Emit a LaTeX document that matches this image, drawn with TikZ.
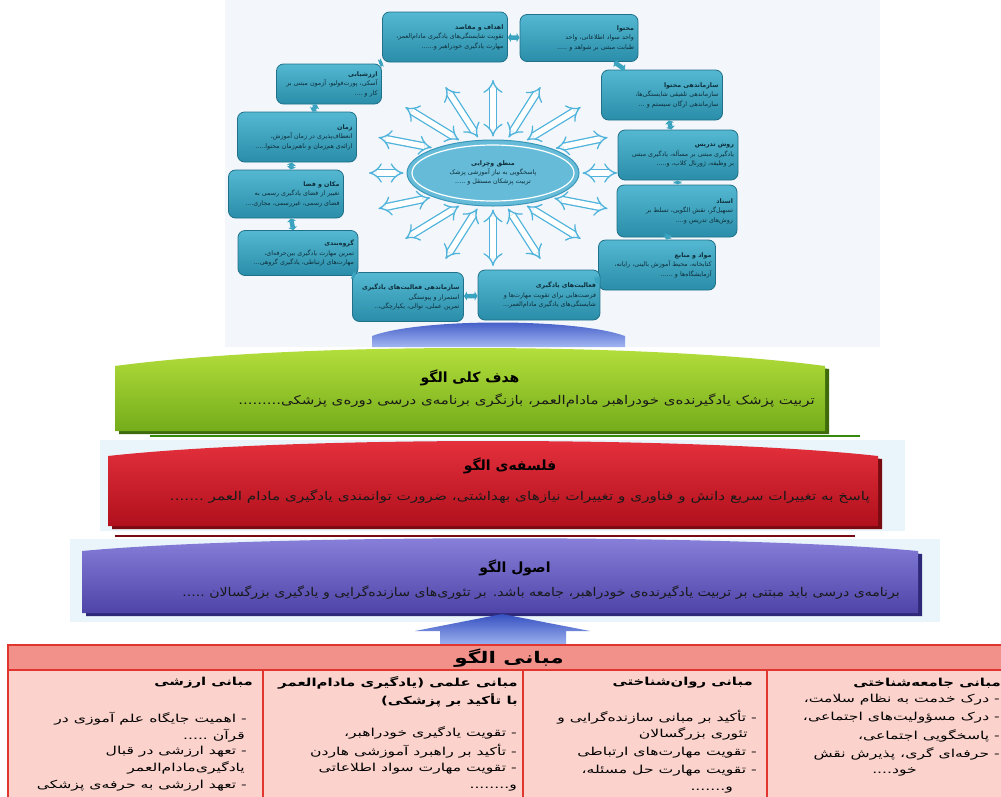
\documentclass[tikz,border=0pt]{standalone}
\usepackage{fontspec}
\usepackage{graphicx}
\usetikzlibrary{shapes.geometric,arrows.meta,calc}
\TeXXeTstate=1
\newfontfamily\fa[Script=Arabic]{DejaVu Sans}
\newcommand\Rl[1]{\beginR #1\endR}
\newcommand\ttl[1]{{\bfseries\Rl{#1}}}
\newcommand\sx[2]{\scalebox{#1}[1]{#2}}
\definecolor{topbg}{HTML}{F3F7FB}
\definecolor{boxtop}{HTML}{55B8D2}
\definecolor{boxbot}{HTML}{2A8DA9}
\definecolor{boxedge}{HTML}{1F7088}
\definecolor{boxtext}{HTML}{0E2E3A}
\definecolor{connc}{HTML}{3AA3C0}
\definecolor{arrc}{HTML}{4FB3DC}
\definecolor{ellf}{HTML}{66BCD8}
\definecolor{ellb}{HTML}{3A97B9}
\definecolor{gtop}{HTML}{B8E23E}
\definecolor{gbot}{HTML}{74AC1A}
\definecolor{gsh}{HTML}{3F6B0C}
\definecolor{rtop}{HTML}{E8323F}
\definecolor{rbot}{HTML}{B0101C}
\definecolor{rsh}{HTML}{780A12}
\definecolor{ptop}{HTML}{8A82DC}
\definecolor{pbot}{HTML}{4E44A8}
\definecolor{psh}{HTML}{2E2878}
\definecolor{pale}{HTML}{EAF5FB}
\definecolor{bltop}{HTML}{3550C0}
\definecolor{blbot}{HTML}{A2B6F2}
\definecolor{thead}{HTML}{F2908A}
\definecolor{tbody}{HTML}{FBD3CC}
\definecolor{tline}{HTML}{E0362E}
\def\band#1#2#3#4#5{(#1,#5) -- (#1,#3) .. controls ({#1+180},#4) and ({#2-180},#4) .. (#2,#3) -- (#2,#5) -- cycle}
\begin{document}
\begin{tikzpicture}[x=1pt,y=-1pt,
  tbox/.style={rounded corners=7pt, draw=boxedge, line width=0.8pt, top color=boxtop, bottom color=boxbot,
    font=\fa\fontsize{6.3}{9.5}\selectfont, align=right, inner sep=4pt, text=boxtext},
  conn/.style={draw=connc, line width=4.5pt, {Triangle[length=3pt,width=9pt]}-{Triangle[length=3pt,width=9pt]}},
  radar/.style={draw=arrc, line width=1.3pt, double=white, double distance=5.5pt, {Implies}-{Implies}, shorten <=3pt},
  bandtitle/.style={font=\fa\bfseries\fontsize{14}{16}\selectfont, text=black, inner sep=0pt},
  bandtext/.style={font=\fa\fontsize{12}{14}\selectfont, text=black!90, inner sep=0pt},
  ttitle/.style={font=\fa\bfseries\fontsize{11}{13}\selectfont, inner sep=0pt},
  ttext/.style={font=\fa\fontsize{11}{13}\selectfont, inner sep=0pt}]
\useasboundingbox (0,0) rectangle (1001,796);
\clip (0,0) rectangle (1001,796);
\fill[white] (0,0) rectangle (1001,796);
% top panel
\fill[topbg] (225,0) rectangle (880,347);
% central ellipse
\node[ellipse, draw=ellb, line width=1pt, fill=ellf, minimum width=172pt, minimum height=66pt, inner sep=0pt,
  font=\fa\fontsize{6.3}{9}\selectfont, align=center, text=boxtext] (ell) at (493,173)
  {\ttl{منطق وچرایی}\\\Rl{پاسخگویی به نیاز آموزشی پزشک}\\\Rl{تربیت پزشکان مستقل و .....}};
\draw[white, line width=1.2pt] (ell.center) ellipse [x radius=81pt, y radius=28pt];
% radiating arrows
\foreach \a in {0,22.5,...,337.5}{
  \draw[radar] (ell.\a) -- ($(ell.center)+(\a:124pt and 93pt)$);
}
% boxes
\node[tbox, minimum width=125pt, minimum height=50pt, text width=117pt] (b1) at (445,37)
  {\ttl{اهداف و مقاصد}\\\Rl{تقویت شایستگی‌های یادگیری مادام‌العمر،}\\\Rl{مهارت یادگیری خودراهبر و......}};
\node[tbox, minimum width=118pt, minimum height=47pt, text width=110pt] (b2) at (579,38)
  {\ttl{محتوا}\\\Rl{واحد سواد اطلاعاتی، واحد}\\\Rl{طبابت مبتنی بر شواهد و .....}};
\node[tbox, minimum width=121pt, minimum height=50pt, text width=113pt] (b3) at (662,95)
  {\ttl{سازماندهی محتوا}\\\Rl{سازماندهی تلفیقی شایستگی‌ها،}\\\Rl{سازماندهی ارگان سیستم و ...}};
\node[tbox, minimum width=120pt, minimum height=50pt, text width=112pt] (b4) at (678,155)
  {\ttl{روش تدریس}\\\Rl{یادگیری مبتنی بر مسأله، یادگیری مبتنی}\\\Rl{بر وظیفه، ژورنال کلاب، و.....}};
\node[tbox, minimum width=120pt, minimum height=52pt, text width=112pt] (b5) at (677,211)
  {\ttl{استاد}\\\Rl{تسهیل‌گر، نقش الگویی، تسلط بر}\\\Rl{روش‌های تدریس و....}};
\node[tbox, minimum width=117pt, minimum height=50pt, text width=109pt] (b6) at (657,265)
  {\ttl{مواد و منابع}\\\Rl{کتابخانه، محیط آموزش بالینی، رایانه،}\\\Rl{آزمایشگاه‌ها و ......}};
\node[tbox, minimum width=122pt, minimum height=50pt, text width=114pt] (b7) at (539,295)
  {\ttl{فعالیت‌های یادگیری}\\\Rl{فرصت‌هایی برای تقویت مهارت‌ها و}\\\Rl{شایستگی‌های یادگیری مادام‌العمر...}};
\node[tbox, minimum width=111pt, minimum height=49pt, text width=103pt] (b8) at (408,297)
  {\ttl{سازماندهی فعالیت‌های یادگیری}\\\Rl{استمرار و پیوستگی}\\\Rl{تمرین عملی، توالی، یکپارچگی،..}};
\node[tbox, minimum width=120pt, minimum height=45pt, text width=112pt] (b9) at (298,253)
  {\ttl{گروه‌بندی}\\\Rl{تمرین مهارت یادگیری بین‌حرفه‌ای،}\\\Rl{مهارت‌های ارتباطی، یادگیری گروهی...}};
\node[tbox, minimum width=115pt, minimum height=48pt, text width=107pt] (b10) at (286,194)
  {\ttl{مکان و فضا}\\\Rl{تغییر از فضای یادگیری رسمی به}\\\Rl{فضای رسمی، غیررسمی، مجازی....}};
\node[tbox, minimum width=119pt, minimum height=50pt, text width=111pt] (b11) at (297,137)
  {\ttl{زمان}\\\Rl{انعطاف‌پذیری در زمان آموزش،}\\\Rl{ارائه‌ی هم‌زمان و ناهم‌زمان محتوا.....}};
\node[tbox, minimum width=105pt, minimum height=40pt, text width=97pt] (b12) at (329,84)
  {\ttl{ارزشیابی}\\\Rl{آسکی، پورت‌فولیو، آزمون مبتنی بر}\\\Rl{کار و ....}};
% box connectors
\draw[conn] (b12) -- (b1);
\draw[conn] (b1) -- (b2);
\draw[conn] (b2) -- (b3);
\draw[conn] (b3) -- (b4);
\draw[conn] (b4) -- (b5);
\draw[conn] (b5) -- (b6);
\draw[conn] (b6) -- (b7);
\draw[conn] (b7) -- (b8);
\draw[conn] (b8) -- (b9);
\draw[conn] (b9) -- (b10);
\draw[conn] (b10) -- (b11);
\draw[conn] (b11) -- (b12);
% top blue arch
\shade[top color=bltop, bottom color=blbot] (372,347) -- (372,336) .. controls (420,318) and (575,318) .. (625,336) -- (625,347) -- cycle;
% green band
\fill[gsh] [shift={(4,3)}] \band{115}{825}{366}{342}{431};
\shade[top color=gtop, bottom color=gbot] \band{115}{825}{366}{342}{431};
\node[bandtitle] (gt) at (470,378) {\Rl{هدف کلی الگو}};
\node[bandtext, anchor=east] (gx) at (815,401) {\sx{1.25}{\Rl{تربیت پزشک یادگیرنده‌ی خودراهبر مادام‌العمر، بازنگری برنامه‌ی درسی دوره‌ی پزشکی.........}}};
\draw[gsh!80!green, line width=2pt] (150,436) -- (860,436);
% red band
\fill[pale] (100,440) rectangle (905,531);
\fill[rsh] [shift={(4,3)}] \band{108}{878}{456}{436}{526};
\shade[top color=rtop, bottom color=rbot] \band{108}{878}{456}{436}{526};
\node[bandtitle] (rt) at (510,466) {\Rl{فلسفه‌ی الگو}};
\node[bandtext, anchor=east] (rx) at (870,497) {\sx{1.27}{\Rl{پاسخ به تغییرات سریع دانش و فناوری و تغییرات نیازهای بهداشتی، ضرورت توانمندی یادگیری مادام العمر .......}}};
\draw[rsh, line width=1.5pt] (115,536) -- (855,536);
% purple band
\fill[pale] (70,539) rectangle (940,622);
\fill[psh] [shift={(4,3)}] \band{82}{918}{551}{534}{613};
\shade[top color=ptop, bottom color=pbot] \band{82}{918}{551}{534}{613};
\node[bandtitle] (pt) at (515,568) {\Rl{اصول الگو}};
\node[bandtext, anchor=east] (px) at (900,593) {\sx{1.175}{\Rl{برنامه‌ی درسی باید مبتنی بر تربیت یادگیرنده‌ی خودراهبر، جامعه باشد. بر تئوری‌های سازنده‌گرایی و یادگیری بزرگسالان .....}}};
% bottom blue arrow
\shade[top color=bltop, bottom color=blbot] (415,631) -- (502,614) -- (590,631) -- (566,631) -- (566,646) -- (440,646) -- (440,631) -- cycle;
% table
\fill[tbody] (8,670) rectangle (1005,800);
\filldraw[fill=thead, draw=tline, line width=1.5pt] (8,645) rectangle (1005,670);
\draw[tline, line width=1.5pt] (8,670) -- (8,800);
\draw[tline, line width=1.2pt] (263,670) -- (263,800) (523,670) -- (523,800) (767,670) -- (767,800);
\node[ttitle, font=\fa\bfseries\fontsize{16}{18}\selectfont] (th) at (509,658) {\sx{1.35}{\Rl{مبانی الگو}}};
% column 1
\node[ttitle, anchor=east] (c1t) at (1001,683) {\sx{1.35}{\Rl{مبانی جامعه‌شناختی}}};
\node[ttext, anchor=east] (c1a) at (1000,700) {\sx{1.42}{\Rl{- درک خدمت به نظام سلامت،}}};
\node[ttext, anchor=east] (c1b) at (1000,718) {\sx{1.42}{\Rl{- درک مسؤولیت‌های اجتماعی،}}};
\node[ttext, anchor=east] (c1c) at (1000,736) {\sx{1.42}{\Rl{- پاسخگویی اجتماعی،}}};
\node[ttext, anchor=east] (c1d) at (1000,754) {\sx{1.42}{\Rl{- حرفه‌ای گری، پذیرش نقش}}};
\node[ttext, anchor=east] (c1e) at (917,772) {\sx{1.42}{\Rl{خود....}}};
% column 2
\node[ttitle, anchor=east] (c2t) at (753,683) {\sx{1.35}{\Rl{مبانی روان‌شناختی}}};
\node[ttext, anchor=east] (c2a) at (757,717) {\sx{1.42}{\Rl{- تأکید بر مبانی سازنده‌گرایی و}}};
\node[ttext, anchor=east] (c2b) at (748,734) {\sx{1.42}{\Rl{تئوری بزرگسالان}}};
\node[ttext, anchor=east] (c2c) at (757,753) {\sx{1.42}{\Rl{- تقویت مهارت‌های ارتباطی}}};
\node[ttext, anchor=east] (c2d) at (757,771) {\sx{1.42}{\Rl{- تقویت مهارت حل مسئله،}}};
\node[ttext, anchor=east] (c2e) at (733,790) {\sx{1.42}{\Rl{و.......}}};
% column 3
\node[ttitle, anchor=east] (c3t) at (518,683) {\sx{1.36}{\Rl{مبانی علمی (یادگیری مادام‌العمر}}};
\node[ttitle, anchor=east] (c3u) at (518,700) {\sx{1.36}{\Rl{با تأکید بر پزشکی)}}};
\node[ttext, anchor=east] (c3a) at (517,733) {\sx{1.42}{\Rl{- تقویت یادگیری خودراهبر،}}};
\node[ttext, anchor=east] (c3b) at (517,751) {\sx{1.42}{\Rl{- تأکید بر راهبرد آموزشی هاردن}}};
\node[ttext, anchor=east] (c3c) at (517,769) {\sx{1.42}{\Rl{- تقویت مهارت سواد اطلاعاتی}}};
\node[ttext, anchor=east] (c3d) at (517,788) {\sx{1.42}{\Rl{و........}}};
% column 4
\node[ttitle, anchor=east] (c4t) at (253,683) {\sx{1.35}{\Rl{مبانی ارزشی}}};
\node[ttext, anchor=east] (c4a) at (247,719) {\sx{1.42}{\Rl{- اهمیت جایگاه علم آموزی در}}};
\node[ttext, anchor=east] (c4b) at (245,736) {\sx{1.42}{\Rl{قرآن .....}}};
\node[ttext, anchor=east] (c4c) at (247,752) {\sx{1.42}{\Rl{- تعهد ارزشی در قبال}}};
\node[ttext, anchor=east] (c4d) at (245,768) {\sx{1.42}{\Rl{یادگیری‌مادام‌العمر}}};
\node[ttext, anchor=east] (c4e) at (247,786) {\sx{1.42}{\Rl{- تعهد ارزشی به حرفه‌ی پزشکی}}};
\end{tikzpicture}
\end{document}
